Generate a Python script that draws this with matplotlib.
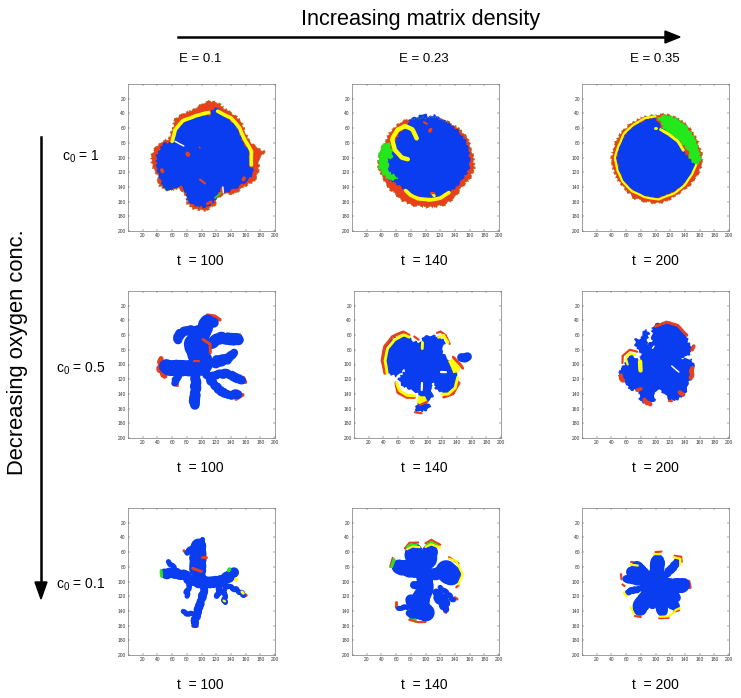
import matplotlib
matplotlib.use('Agg')
import matplotlib.pyplot as plt

plt.rcParams['font.family'] = ['Liberation Sans', 'DejaVu Sans']

RED = '#e8401c'
YELLOW = '#ffff00'
GREEN = '#22e81c'
BLUE = '#0a3cf0'
OLIVE = '#7c9a24'

# every shape is (width, points), width 0 means a filled outline
red11 = [(0, [(100,27),(112,23),(124,26),(132,34),(145,42),(155,52),(160,65),(165,78),(175,86),(186,92),(178,103),(178,120),(172,132),(158,140),(145,150),(135,150),(130,150),(122,155),(118,165),(105,173),(88,170),(80,162),(80,155),(76,146),(70,142),(55,146),(42,138),(40,125),(33,112),(31,98),(38,85),(48,78),(55,75),(60,62),(64,48),(75,40),(88,35)])]
blue11 = [(0, [(60,80),(65,62),(78,50),(95,43),(112,42),(112,35),(122,32),(126,40),(140,50),(150,62),(156,78),(165,92),(166,112),(172,118),(165,130),(150,140),(138,146),(130,148),(129,140),(125,145),(118,160),(105,168),(90,166),(80,158),(80,150),(74,142),(68,140),(55,146),(48,142),(44,130),(40,118),(38,100),(43,88),(50,80)])]
green11 = [(2, [(118,155),(126,148)])]
yellow11 = [(5, [(60,78),(64,62),(75,50),(92,43),(110,39)]), (5, [(122,37),(140,46),(152,60),(160,78),(168,92),(168,110)])]
white11 = [(2, [(64,78),(76,84)]), (2, [(129,140),(130,148)])]
spot11 = [(6, [(81,95),(82,96)]), (2, [(97,86),(98,87)]), (3, [(98,130),(105,135)]), (5, [(46,117),(47,119)]), (5, [(157,130),(158,128)]), (4, [(72,140),(74,145)]), (4, [(108,163),(113,160)])]

red12 = [(0, [(75,48),(65,52),(52,65),(45,78),(38,95),(35,110),(40,125),(48,140),(58,150),(70,160),(85,166),(105,168),(125,165),(140,155),(150,140),(160,130),(167,115),(165,95),(158,75),(148,62),(135,53),(120,47),(110,45)])]
blue12 = [(0, [(75,49),(90,44),(98,40),(105,44),(112,42),(118,46),(130,52),(145,63),(155,78),(160,95),(160,115),(152,128),(140,142),(128,150),(115,155),(95,155),(80,150),(70,143),(62,137),(50,130),(48,115),(50,100),(55,85),(60,75),(70,60),(78,52)])]
green12 = [(0, [(42,80),(50,80),(55,90),(55,102),(48,102),(50,112),(50,120),(60,125),(62,130),(50,132),(42,122),(37,115),(36,100),(38,90)])]
yellow12 = [(6, [(88,74),(82,62),(72,57),(62,62),(55,75),(58,90),(68,100),(76,102)]), (5, [(73,145),(80,151),(90,156),(105,158),(120,155),(132,148)]), (4, [(110,150),(112,152)])]
white12 = []
spot12 = [(5, [(107,62),(106,64)]), (3, [(98,52),(102,54)]), (3, [(108,148),(112,148)])]

red13 = [(0, [(100,42),(115,41),(130,46),(145,58),(157,75),(163,95),(163,112),(155,128),(145,140),(130,150),(115,160),(100,163),(85,160),(70,155),(58,143),(48,130),(42,115),(40,100),(44,82),(52,68),(65,54),(82,45)])]
blue13 = [(0, [(100,46),(105,55),(112,65),(125,72),(135,82),(137,90),(145,100),(155,107),(150,122),(140,135),(125,147),(105,155),(85,153),(70,146),(58,135),(50,118),(47,100),(50,85),(58,70),(72,56),(88,48)])]
green13 = [(0, [(102,45),(115,42),(130,47),(143,58),(155,75),(160,90),(162,105),(155,110),(148,105),(145,92),(135,80),(125,72),(112,62),(108,55)])]
yellow13 = [(3, [(100,44),(85,47),(70,55),(57,68),(49,85),(45,100),(48,118),(55,132),(68,146),(85,154),(105,157),(125,149),(140,137),(150,123),(155,110)]), (4, [(107,62),(118,68),(130,78),(138,90)]), (4, [(99,60),(101,60)])]
white13 = []
spot13 = []

red21 = [(5, [(108,33),(118,34),(125,39)]), (5, [(64,66),(69,55),(80,50)]), (5, [(88,51),(98,50)]), (5, [(152,60),(155,67)]), (7, [(45,92),(42,105),(50,116)]), (5, [(62,127),(67,128)]), (5, [(88,158),(93,158)]), (5, [(157,118),(160,124)]), (5, [(147,147),(156,141)])]
blue21 = [(20, [(108,42),(100,60),(98,90),(100,105)]), (14, [(108,40),(116,44)]), (12, [(100,53),(80,54),(72,57),(67,66)]), (15, [(112,72),(125,64),(150,66)]), (11, [(105,100),(125,98),(145,85)]), (12, [(120,92),(135,92)]), (20, [(100,105),(70,105),(52,104)]), (9, [(72,108),(63,125)]), (13, [(92,115),(92,135),(90,155)]), (11, [(105,110),(115,125),(125,135),(135,142),(150,140)]), (11, [(115,115),(135,112),(155,122)]), (28, [(90,72),(102,100)])]
green21 = []
yellow21 = []
white21 = []
spot21 = [(3, [(90,95),(96,95)]), (4, [(102,66),(112,72),(112,84)])]

red22 = [(4, [(42,112),(38,95),(42,75),(52,62),(67,56),(75,60)]), (3, [(82,62),(88,66)]), (3, [(113,57),(118,55),(125,60),(130,72)]), (4, [(135,90),(145,100),(148,105)]), (4, [(143,125),(135,140),(122,144)]), (4, [(57,125),(60,138),(72,145),(82,145)]), (3, [(90,155),(100,150)]), (3, [(83,165),(92,166)])]
blue22 = [(0, [(60,62),(72,60),(80,68),(90,70),(95,62),(105,60),(115,62),(125,68),(120,82),(125,90),(135,100),(140,115),(142,125),(138,135),(125,140),(112,135),(108,125),(105,130),(108,145),(100,150),(95,148),(105,158),(100,162),(88,165),(82,162),(85,155),(90,148),(88,140),(80,135),(65,130),(60,120),(72,105),(62,112),(58,117),(45,112),(40,105),(38,90),(42,75),(50,65)]), (12, [(146,90),(154,90)])]
green22 = []
yellow22 = [(4, [(45,112),(42,95),(46,78),(55,66),(68,60),(75,63)]), (4, [(115,63),(122,60),(128,70)]), (0, [(128,95),(138,90),(145,100),(143,110),(135,112)]), (4, [(141,118),(138,132),(128,140),(120,140)]), (4, [(58,125),(62,135),(72,142),(82,143)]), (0, [(87,143),(97,143),(100,150),(92,155),(86,152)]), (4, [(92,70),(92,78)])]
white22 = [(3, [(92,125),(92,135)]), (3, [(118,110),(125,110)])]
spot22 = []

red23 = [(4, [(100,48),(115,42),(130,47),(143,60)]), (5, [(152,75),(150,80)]), (6, [(150,105),(148,118)]), (6, [(53,115),(55,122)]), (5, [(75,135),(80,133)]), (6, [(85,148),(92,155)]), (6, [(133,138),(138,140)]), (3, [(118,150),(122,150)]), (3, [(55,98),(55,88),(65,80),(75,83)])]
blue23 = [(0, [(95,50),(100,45),(118,42),(130,47),(142,58),(145,70),(150,75),(152,80),(145,88),(135,92),(150,93),(153,105),(150,118),(145,125),(143,135),(135,145),(125,150),(118,148),(112,140),(105,135),(98,137),(100,148),(90,155),(78,150),(78,140),(75,135),(65,135),(60,125),(50,118),(50,108),(58,100),(62,90),(70,88),(78,95),(80,85),(72,75),(72,65),(80,65),(85,52),(92,55),(88,72),(95,70)])]
green23 = []
yellow23 = [(3, [(72,87),(65,85),(60,92),(62,100)]), (6, [(79,96),(80,108)])]
white23 = [(2, [(98,75),(96,78)]), (2, [(122,102),(132,110)]), (2, [(140,90),(150,88)])]
spot23 = []

red31 = [(5, [(92,47),(102,46)]), (5, [(100,38),(101,38)]), (4, [(55,73),(56,73)]), (4, [(76,58),(78,60)]), (5, [(88,160),(94,160)]), (4, [(122,123),(123,123)]), (4, [(130,130),(131,130)]), (4, [(160,118),(161,119)]), (4, [(73,142),(74,142)])]
blue31 = [(21, [(96,52),(95,60),(95,85)]), (7, [(100,42),(100,50)]), (8, [(88,55),(80,60)]), (11, [(95,85),(100,95),(105,100)]), (14, [(82,97),(100,102),(125,100),(140,92),(143,87)]), (13, [(80,92),(60,88),(50,90)]), (7, [(55,73),(65,85)]), (7, [(130,105),(145,110),(158,118)]), (8, [(125,105),(122,120)]), (7, [(130,110),(130,128)]), (10, [(105,105),(100,125),(95,140),(90,158)]), (7, [(90,145),(75,142)]), (7, [(85,100),(80,115),(80,120)])]
green31 = [(4, [(45,85),(46,93)]), (5, [(137,85),(138,83)])]
yellow31 = [(5, [(147,97),(147,98)]), (4, [(155,114),(157,116)]), (3, [(130,126),(132,127)])]
white31 = []
spot31 = [(4, [(100,67),(106,67)]), (4, [(88,82),(100,86)])]

red32 = [(3, [(72,55),(78,47),(90,47)]), (3, [(100,48),(108,43),(120,50)]), (3, [(52,80),(55,68)]), (3, [(132,67),(145,75)]), (3, [(145,105),(142,108)]), (4, [(60,128),(60,135)]), (3, [(78,152),(90,155),(100,155)]), (4, [(140,122),(143,124)]), (4, [(126,141),(128,142)])]
blue32 = [(24, [(85,60),(85,72)]), (22, [(106,60),(102,75)]), (20, [(64,80),(85,85)]), (28, [(128,85),(134,92)]), (20, [(95,80),(100,100),(100,115)]), (16, [(110,90),(125,88)]), (11, [(85,105),(100,105)]), (24, [(95,120),(90,136),(100,143)]), (15, [(80,125),(85,135)]), (11, [(115,115),(128,130)]), (9, [(115,122),(128,138)]), (7, [(75,135),(63,135)]), (7, [(120,108),(138,125)]), (10, [(78,143),(88,147)])]
green32 = [(3, [(75,53),(80,49),(88,50)]), (3, [(102,50),(108,46),(118,52)]), (4, [(54,80),(57,70)]), (0, [(78,148),(90,150),(88,155),(80,153)])]
yellow32 = [(3, [(75,56),(82,52),(92,53)]), (3, [(100,53),(108,49),(120,54)]), (3, [(132,69),(142,72),(150,90),(145,104)])]
white32 = []
spot32 = []

red33 = [(3, [(100,60),(108,59)]), (3, [(126,65),(135,66),(136,73)]), (5, [(145,100),(147,108)]), (3, [(53,90),(54,97)]), (3, [(66,74),(70,74)]), (3, [(72,147),(80,148)]), (3, [(105,150),(118,149)]), (3, [(125,141),(132,139)]), (3, [(55,104),(58,106)])]
blue33 = [(18, [(100,105),(103,72)]), (10, [(100,105),(130,74)]), (18, [(100,105),(138,105)]), (13, [(100,105),(126,134)]), (15, [(100,105),(110,140)]), (20, [(100,105),(78,136)]), (15, [(100,105),(68,86)]), (10, [(100,105),(60,96)]), (15, [(100,105),(74,80)]), (8, [(100,105),(62,114)]), (11, [(100,105),(95,132)]), (13, [(100,105),(128,122)])]
green33 = []
yellow33 = [(3, [(98,62),(106,62)]), (3, [(125,67),(134,69),(134,78)]), (3, [(66,77),(76,78)]), (3, [(57,115),(61,120)]), (3, [(66,135),(71,144)]), (3, [(106,148),(118,147),(126,141)]), (3, [(127,139),(133,136)])]
white33 = []
spot33 = []

density_labels = ['E = 0.1', 'E = 0.23', 'E = 0.35']
oxygen_labels = ['$\\mathregular{c_0}$ = 1', '$\\mathregular{c_0}$ = 0.5', '$\\mathregular{c_0}$ = 0.1']
times = ['t  = 100', 't  = 140', 't  = 200']
ticks = [20, 40, 60, 80, 100, 120, 140, 160, 180, 200]

panels = [
    [(red11, blue11, green11, yellow11, white11, spot11), (red12, blue12, green12, yellow12, white12, spot12), (red13, blue13, green13, yellow13, white13, spot13)],
    [(red21, blue21, green21, yellow21, white21, spot21), (red22, blue22, green22, yellow22, white22, spot22), (red23, blue23, green23, yellow23, white23, spot23)],
    [(red31, blue31, green31, yellow31, white31, spot31), (red32, blue32, green32, yellow32, white32, spot32), (red33, blue33, green33, yellow33, white33, spot33)],
]

W, H = 741, 698
lefts = [[128, 352, 582], [128, 354, 582], [128, 352, 582]]
tops = [84, 291, 508]
label_x = [200, 424, 655]
colors = [RED, BLUE, GREEN, YELLOW, 'white', RED]


def draw(ax, shapes, color):
    for w, pts in shapes:
        x = [p[0] for p in pts]
        y = [p[1] for p in pts]
        if w == 0:
            a = ax.fill(x, y, color=color, lw=0)[0]
            if color == RED:
                # speckle of the rim
                d = ax.plot(x + x[:1], y + y[:1], ':', color=OLIVE, lw=0.7)[0]
                d.set_sketch_params(1.0, 8, 4)
        else:
            a = ax.plot(x, y, color=color, lw=w * 0.53, solid_capstyle='round', solid_joinstyle='round')[0]
        # thin bands break up when they get the full roughness
        if color == YELLOW or (w > 0 and w < 6):
            a.set_sketch_params(0.25, 30, 2)
        else:
            a.set_sketch_params(1.0, 8, 4)


fig = plt.figure(figsize=(W / 100, H / 100), dpi=100)

for r in range(3):
    for c in range(3):
        ax = fig.add_axes([lefts[r][c] / W, 1 - (tops[r] + 147) / H, 147 / W, 147 / H])
        for shapes, color in zip(panels[r][c], colors):
            draw(ax, shapes, color)
        ax.set_xlim(0, 200)
        ax.set_ylim(200, 0)
        ax.set_xticks(ticks)
        ax.set_yticks(ticks)
        ax.tick_params(direction='in', length=1.2, width=0.3, labelsize=3.5, pad=1.5, colors='#333333', top=True, right=True)
        for s in ax.spines.values():
            s.set_linewidth(0.5)
            s.set_color('#777777')
        fig.text(label_x[c] / W, 1 - (tops[r] + 177) / H, times[c], ha='center', va='center', fontsize=10)
    fig.text(81 / W, 1 - (tops[r] + [73, 78, 77][r]) / H, oxygen_labels[r], ha='center', va='center', fontsize=10)

for c in range(3):
    fig.text(label_x[c] / W, 1 - 59 / H, density_labels[c], ha='center', va='center', fontsize=9.5)

fig.text(421 / W, 1 - 20 / H, 'Increasing matrix density', ha='center', va='center', fontsize=15.6)
fig.text(18 / W, 1 - 352 / H, 'Decreasing oxygen conc.', ha='center', va='center', rotation=90, fontsize=15.8)

fig.add_artist(plt.Line2D([178 / W, 668 / W], [1 - 37 / H, 1 - 37 / H], color='k', lw=1.8))
fig.add_artist(plt.Polygon([[665 / W, 1 - 31 / H], [680 / W, 1 - 37 / H], [665 / W, 1 - 43 / H]], color='k', transform=fig.transFigure))
fig.add_artist(plt.Line2D([41 / W, 41 / W], [1 - 137 / H, 1 - 585 / H], color='k', lw=1.8))
fig.add_artist(plt.Polygon([[35 / W, 1 - 582 / H], [41 / W, 1 - 599 / H], [47 / W, 1 - 582 / H]], color='k', transform=fig.transFigure))

fig.savefig('out.png', dpi=100)
